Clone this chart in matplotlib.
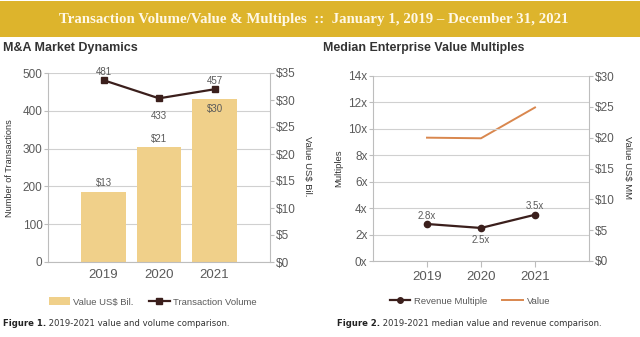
import matplotlib
matplotlib.use("Agg")
import matplotlib.pyplot as plt
from matplotlib.patches import Rectangle
from matplotlib.lines import Line2D

# ---- data ----
years = ["2019", "2020", "2021"]
deal_value_bil = [13.0, 21.3, 30.1]
deal_value_labels = ["$13", "$21", "$30"]
transaction_volume = [481, 433, 457]
revenue_multiple = [2.8, 2.5, 3.5]
revenue_labels = ["2.8x", "2.5x", "3.5x"]
ev_value_mm = [20.0, 19.9, 24.9]

left_ticks = [0, 100, 200, 300, 400, 500]
left_right_ticks = [0, 5, 10, 15, 20, 25, 30, 35]
mult_ticks = [0, 2, 4, 6, 8, 10, 12, 14]
mm_ticks = [0, 5, 10, 15, 20, 25, 30]

# ---- styles ----
GOLD = "#DDB42C"
BAR = "#F0D08A"
DARK = "#3B1F1C"
ORANGE = "#D9874E"
GRID = "#D0D0D0"
SPINE = "#BDBDBD"
TXT = "#5A5A5A"
SANS = ["Liberation Sans", "DejaVu Sans"]

fig = plt.figure(figsize=(6.4, 3.37), dpi=100)
W, H = 640, 337

def fx(px):
    return px / W

def fy(py):
    return 1 - py / H

# banner
fig.patches.append(Rectangle((0, fy(36.5)), 1, (36.5 - 1.5) / H, transform=fig.transFigure,
                             facecolor=GOLD, edgecolor="none", zorder=0))
fig.text(fx(314), fy(19.5), "Transaction Volume/Value & Multiples  ::  January 1, 2019 \u2013 December 31, 2021",
         ha="center", va="center", color="#FFF8E6", fontsize=10.7, fontweight="bold",
         family=["Liberation Serif", "DejaVu Serif"])

xpos = [1, 2, 3]

def style_spines(ax, ax2):
    for a in (ax, ax2):
        a.spines["top"].set_visible(False)
        for s in ("left", "right", "bottom"):
            a.spines[s].set_color(SPINE)
            a.spines[s].set_linewidth(0.8)
    ax2.spines["left"].set_visible(False)
    ax2.spines["bottom"].set_visible(False)
    ax.spines["right"].set_visible(False)
    ax.tick_params(axis="y", colors=SPINE, labelcolor=TXT, labelsize=8.5, length=3, width=0.8, pad=1)
    ax2.tick_params(axis="y", colors=SPINE, labelcolor=TXT, labelsize=8.5, length=3, width=0.8, pad=1)
    for lab in ax.get_yticklabels() + ax2.get_yticklabels() + ax.get_xticklabels():
        lab.set_family(SANS)

# ---------- Left chart ----------
rect1 = [fx(48), fy(262), fx(270 - 48), (262 - 73) / H]
# background axes with the grid (left scale)
axbg = fig.add_axes(rect1, zorder=0)
axbg.set_xlim(0, 4)
axbg.set_ylim(0, 500)
axbg.set_yticks(left_ticks)
axbg.grid(axis="y", color=GRID, linewidth=0.8)
axbg.set_xticks([])
axbg.tick_params(axis="y", length=0, labelleft=False)
for s in axbg.spines.values():
    s.set_visible(False)

# bars axes (right scale)
ax1r = fig.add_axes(rect1, zorder=1)
ax1r.patch.set_visible(False)
ax1r.set_xlim(0, 4)
ax1r.set_ylim(0, 35)
ax1r.yaxis.tick_right()
ax1r.set_yticks(left_right_ticks)
ax1r.set_yticklabels([f"${v}" for v in left_right_ticks])
ax1r.set_xticks([])
ax1r.bar(xpos, deal_value_bil, width=0.8, color=BAR)

# line axes (left scale)
ax1 = fig.add_axes(rect1, zorder=2)
ax1.patch.set_visible(False)
ax1.set_xlim(0, 4)
ax1.set_ylim(0, 500)
ax1.set_yticks(left_ticks)
ax1.set_xticks(xpos)
ax1.set_xticklabels(years)
ax1.tick_params(axis="x", length=0, labelsize=9.5, labelcolor=TXT, pad=5)
ax1.plot(xpos, transaction_volume, color=DARK, linewidth=1.6, marker="s", markersize=4.5)
style_spines(ax1, ax1r)
ax1r.spines["right"].set_visible(True)
for s in ("left", "bottom", "top"):
    ax1r.spines[s].set_visible(False)

vol_offsets = [6, -13, 6]
for x, v, off in zip(xpos, transaction_volume, vol_offsets):
    ax1.annotate(str(v), (x, v), xytext=(0, off), textcoords="offset points", ha="center",
                 va="center", fontsize=7, color=TXT, family=SANS)
val_offsets = [6, 6, -7]
for x, v, lab, off in zip(xpos, deal_value_bil, deal_value_labels, val_offsets):
    ax1r.annotate(lab, (x, v), xytext=(0, off), textcoords="offset points", ha="center",
                  va="center", fontsize=7, color=TXT, family=SANS)

fig.text(fx(10), fy(168), "Number of Transactions", rotation=90, ha="center", va="center",
         fontsize=6.6, color="#333333", family=SANS)
fig.text(fx(307), fy(166), "Value US$ Bil.", rotation=270, ha="center", va="center",
         fontsize=6.8, color="#333333", family=SANS)
fig.text(fx(3), fy(48), "M&A Market Dynamics", ha="left", va="center", fontsize=9.0,
         fontweight="bold", color="#333333", family=SANS)

h1 = [Rectangle((0, 0), 1, 1, facecolor=BAR, edgecolor="none"),
      Line2D([], [], color=DARK, linewidth=1.6, marker="s", markersize=4)]
fig.legend(h1, ["Value US$ Bil.", "Transaction Volume"], loc="center",
           bbox_to_anchor=(fx(153), fy(302)), ncol=2, frameon=False,
           prop={"family": SANS, "size": 6.8}, handlelength=2.2, handleheight=0.9,
           columnspacing=1.6, handletextpad=0.4, labelcolor=TXT)

t1 = fig.text(fx(3), fy(324), "Figure 1.", ha="left", va="center", fontsize=6.1,
              fontweight="bold", color="#222222", family=["DejaVu Sans"])
plt.annotate(" 2019-2021 value and volume comparison.", xy=(1, 0.5), xycoords=t1,
             ha="left", va="center", fontsize=6.1, color="#333333", family=["DejaVu Sans"],
             annotation_clip=False)

# ---------- Right chart ----------
ax2 = fig.add_axes([fx(373), fy(261), fx(589 - 373), (261 - 76) / H])
ax2r = ax2.twinx()
ax2.set_xlim(0, 4)
ax2.set_ylim(0, 14)
ax2.set_yticks(mult_ticks)
ax2.set_yticklabels([f"{v}x" for v in mult_ticks])
ax2r.set_ylim(0, 30)
ax2r.set_yticks(mm_ticks)
ax2r.set_yticklabels([f"${v}" for v in mm_ticks])
ax2.set_xticks(xpos)
ax2.set_xticklabels(years)
ax2.tick_params(axis="x", length=4, color=SPINE, width=0.8, labelsize=9.5, labelcolor=TXT, pad=3)
ax2.grid(axis="y", color=GRID, linewidth=0.8)
ax2.set_axisbelow(True)

ax2r.plot(xpos, ev_value_mm, color=ORANGE, linewidth=1.4, zorder=2)
ax2.set_zorder(ax2r.get_zorder() + 1)
ax2.patch.set_visible(False)
ax2.plot(xpos, revenue_multiple, color=DARK, linewidth=1.6, marker="o", markersize=4.5, zorder=3)
style_spines(ax2, ax2r)

rev_offsets = [6, -9, 6]
for x, v, lab, off in zip(xpos, revenue_multiple, revenue_labels, rev_offsets):
    ax2.annotate(lab, (x, v), xytext=(0, off), textcoords="offset points", ha="center",
                 va="center", fontsize=7, color=TXT, family=SANS)

fig.text(fx(339), fy(168), "Multiples", rotation=90, ha="center", va="center",
         fontsize=6.8, color="#333333", family=SANS)
fig.text(fx(627), fy(168), "Value US$ MM", rotation=270, ha="center", va="center",
         fontsize=6.8, color="#333333", family=SANS)
fig.text(fx(323), fy(48), "Median Enterprise Value Multiples", ha="left", va="center",
         fontsize=8.9, fontweight="bold", color="#333333", family=SANS)

h2 = [Line2D([], [], color=DARK, linewidth=1.6, marker="o", markersize=4),
      Line2D([], [], color=ORANGE, linewidth=1.4)]
fig.legend(h2, ["Revenue Multiple", "Value"], loc="center",
           bbox_to_anchor=(fx(470), fy(301)), ncol=2, frameon=False,
           prop={"family": SANS, "size": 6.8}, handlelength=2.2,
           columnspacing=1.6, handletextpad=0.4, labelcolor=TXT)

t2 = fig.text(fx(337), fy(324), "Figure 2.", ha="left", va="center", fontsize=6.1,
              fontweight="bold", color="#222222", family=["DejaVu Sans"])
plt.annotate(" 2019-2021 median value and revenue comparison.", xy=(1, 0.5), xycoords=t2,
             ha="left", va="center", fontsize=6.1, color="#333333", family=["DejaVu Sans"],
             annotation_clip=False)

fig.savefig("out.png", dpi=100)
